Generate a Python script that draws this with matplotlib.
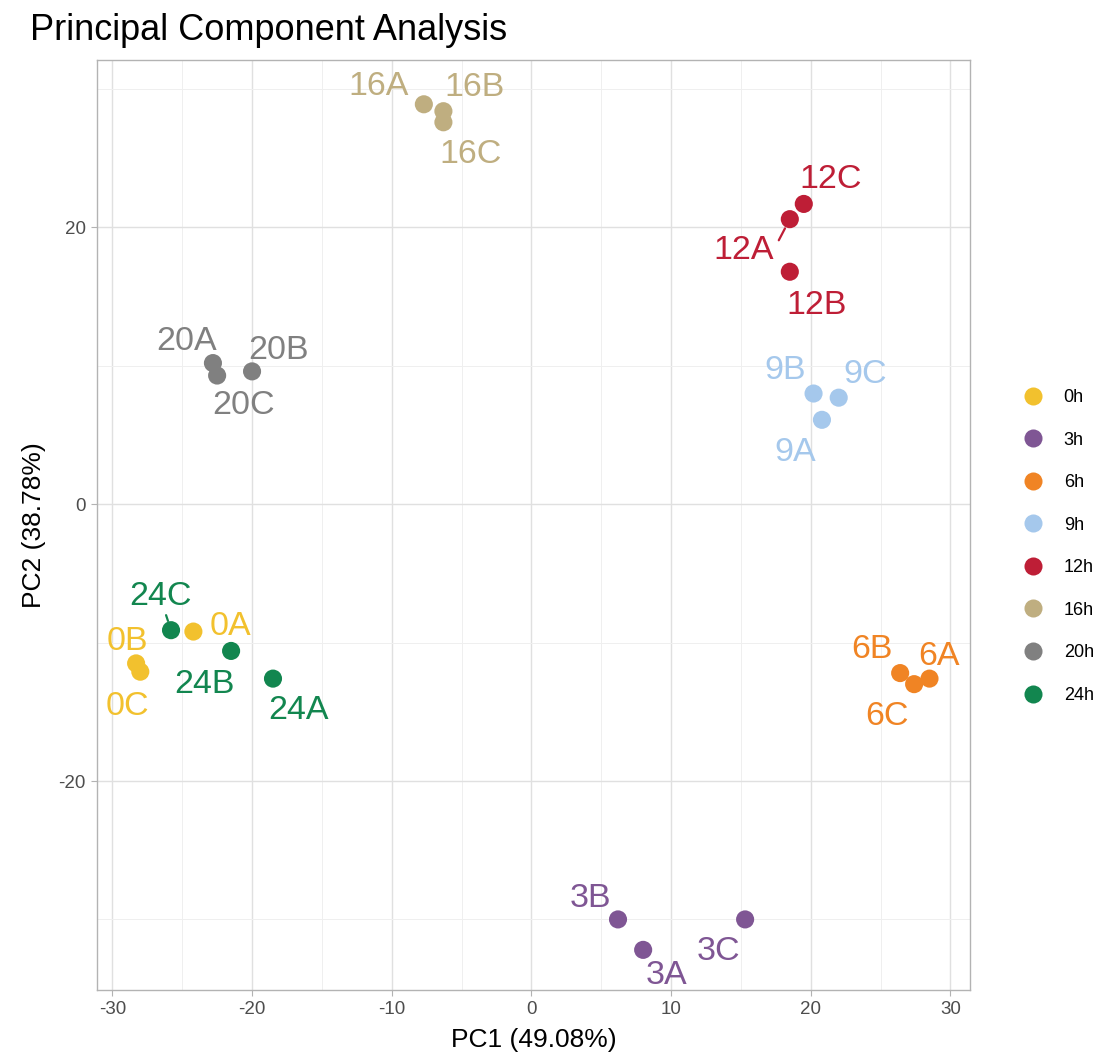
import matplotlib
matplotlib.use('Agg')
import matplotlib.pyplot as plt
from matplotlib.lines import Line2D

plt.rcParams['font.family'] = ['Liberation Sans', 'DejaVu Sans']
plt.rcParams['axes.unicode_minus'] = False

# data
groups = ['0h', '3h', '6h', '9h', '12h', '16h', '20h', '24h']
colors = ['#F2C12E', '#7F5694', '#F08424', '#A5C8EC',
          '#BE1E36', '#BFAE80', '#808080', '#12864F']

samples = ['0A', '0B', '0C', '3A', '3B', '3C', '6A', '6B', '6C',
           '9A', '9B', '9C', '12A', '12B', '12C', '16A', '16B', '16C',
           '20A', '20B', '20C', '24A', '24B', '24C']
pc1 = [-24.2, -28.3, -28.0, 8.0, 6.2, 15.3, 28.5, 26.4, 27.4,
       20.8, 20.2, 22.0, 18.5, 18.5, 19.5, -7.7, -6.3, -6.3,
       -22.8, -20.0, -22.5, -18.5, -21.5, -25.8]
pc2 = [-9.2, -11.5, -12.1, -32.2, -30.0, -30.0, -12.6, -12.2, -13.0,
       6.1, 8.0, 7.7, 20.6, 16.8, 21.7, 28.9, 28.4, 27.6,
       10.2, 9.6, 9.3, -12.6, -10.6, -9.1]
group_of = [s[:-1] + 'h' for s in samples]

# label placement (pixel offsets of the label centre from its point)
label_offset = {
    '0A': (37, 9), '0B': (-9, 26), '0C': (-13, -31),
    '3A': (23, -22), '3B': (-28, 25), '3C': (-27, -28),
    '6A': (10, 26), '6B': (-28, 27), '6C': (-27, -29),
    '9A': (-27, -29), '9B': (-28, 27), '9C': (26, 27),
    '12A': (-46, -28), '12B': (27, -30), '12C': (27, 28),
    '16A': (-45, 21), '16B': (31, 27), '16C': (27, -29),
    '20A': (-26, 25), '20B': (26, 25), '20C': (26, -26),
    '24A': (26, -28), '24B': (-27, -30), '24C': (-11, 37),
}
# labels joined to their point by a short segment: (relpos, shrinkA, shrinkB)
with_segment = {'12A': ((1.0, 0.55), 3, 7.5), '24C': ((0.5, 0.5), 0, 7)}

color_of = dict(zip(groups, colors))

fig = plt.figure(figsize=(11.08, 10.56), dpi=100)
ax = fig.add_axes([97 / 1108, 66 / 1056, 873 / 1108, 930 / 1056])

ax.set_xlim(-31.1, 31.4)
ax.set_ylim(-35.1, 32.1)
ax.set_xticks([-30, -20, -10, 0, 10, 20, 30])
ax.set_yticks([-20, 0, 20])
ax.set_xticks([-25, -15, -5, 5, 15, 25], minor=True)
ax.set_yticks([-30, -10, 10, 30], minor=True)
ax.grid(which='major', color='#E0E0E0', lw=1.0)
ax.grid(which='minor', color='#EFEFEF', lw=0.7)
ax.set_axisbelow(True)
ax.tick_params(which='major', length=4, color='#B3B3B3', labelcolor='#4D4D4D',
               labelsize=13.5, pad=4)
ax.tick_params(which='minor', length=0)
for sp in ax.spines.values():
    sp.set_color('#B3B3B3')
    sp.set_linewidth(1.0)

for g in groups:
    xs = [x for x, gg in zip(pc1, group_of) if gg == g]
    ys = [y for y, gg in zip(pc2, group_of) if gg == g]
    ax.scatter(xs, ys, s=170, color=color_of[g], edgecolors='none', zorder=3)

fs = 24.5
cap = 0.716 * fs * 100 / 72
for name, x, y, g in zip(samples, pc1, pc2, group_of):
    dx, dy = label_offset[name]
    kw = {}
    if name in with_segment:
        rp, sa, sb = with_segment[name]
        kw['arrowprops'] = dict(arrowstyle='-', color=color_of[g], lw=1.6,
                                relpos=rp, shrinkA=sa, shrinkB=sb)
    ax.annotate(name, (x, y), xytext=(dx, dy - cap / 2), textcoords='offset pixels',
                ha='center', va='baseline', fontsize=fs, color=color_of[g],
                zorder=4, **kw)

ax.set_xlabel('PC1 (49.08%)', fontsize=19, labelpad=7)
ax.set_ylabel('PC2 (38.78%)', fontsize=19, labelpad=9)

fig.text(30 / 1108, 1 - 30 / 1056, 'Principal Component Analysis',
         fontsize=26, va='center', ha='left')

handles = [Line2D([], [], ls='none', marker='o', markersize=13, color=c,
                  markeredgewidth=0) for c in colors]
fig.legend(handles, groups, loc='upper left',
           bbox_to_anchor=(1024 / 1108, 1 - 389 / 1056), frameon=False,
           fontsize=13, borderpad=0, borderaxespad=0, handlelength=0.95,
           handletextpad=1.25, labelspacing=1.415)

fig.savefig('out.png', dpi=100)
